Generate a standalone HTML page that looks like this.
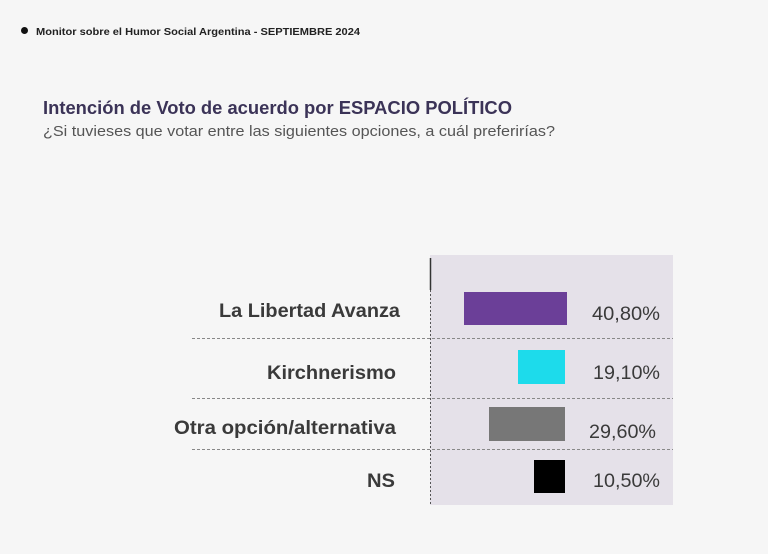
<!DOCTYPE html>
<html><head><meta charset="utf-8"><style>
html,body{margin:0;padding:0;background:#f6f6f6;}
svg{display:block;font-family:"Liberation Sans",sans-serif;}
</style></head><body>
<svg width="768" height="554" viewBox="0 0 768 554">
<rect width="768" height="554" fill="#f6f6f6"/>
<circle cx="24.5" cy="30.5" r="3.5" fill="#111"/>
<text x="36" y="35" font-size="10.5" font-weight="bold" fill="#222" textLength="324" lengthAdjust="spacingAndGlyphs">Monitor sobre el Humor Social Argentina  - SEPTIEMBRE 2024</text>
<text x="43" y="114" font-size="18" font-weight="bold" fill="#3b3357" textLength="469" lengthAdjust="spacingAndGlyphs">Intención de Voto de acuerdo por ESPACIO POLÍTICO</text>
<text x="43" y="136" font-size="15" fill="#555" textLength="512" lengthAdjust="spacingAndGlyphs">¿Si tuvieses que votar entre las siguientes opciones, a cuál preferirías?</text>
<rect x="430" y="255" width="243" height="250" fill="#e5e1e9"/>
<line x1="430.5" y1="258" x2="430.5" y2="290" stroke="#333" stroke-width="1.5"/>
<line x1="430.5" y1="290" x2="430.5" y2="505" stroke="#555" stroke-width="1" stroke-dasharray="2,2"/>
<g stroke="#888" stroke-width="1" stroke-dasharray="3,2">
<line x1="192" y1="338.5" x2="673" y2="338.5"/>
<line x1="192" y1="398.5" x2="673" y2="398.5"/>
<line x1="192" y1="449.5" x2="673" y2="449.5"/>
</g>
<rect x="464" y="292" width="103" height="33" fill="#6b3f98"/>
<rect x="518" y="350" width="47" height="34" fill="#1ddbeb"/>
<rect x="489" y="407" width="76" height="34" fill="#777"/>
<rect x="534" y="460" width="31" height="33" fill="#000"/>
<g font-size="19" font-weight="bold" fill="#3a3a3a" text-anchor="end">
<text x="400" y="317" textLength="181" lengthAdjust="spacingAndGlyphs">La Libertad Avanza</text>
<text x="396" y="379" textLength="129" lengthAdjust="spacingAndGlyphs">Kirchnerismo</text>
<text x="396" y="434" textLength="222" lengthAdjust="spacingAndGlyphs">Otra opción/alternativa</text>
<text x="395" y="487" textLength="28" lengthAdjust="spacingAndGlyphs">NS</text>
</g>
<g font-size="19" fill="#3a3a3a">
<text x="592" y="320" textLength="68" lengthAdjust="spacingAndGlyphs">40,80%</text>
<text x="593" y="379" textLength="67" lengthAdjust="spacingAndGlyphs">19,10%</text>
<text x="589" y="438" textLength="67" lengthAdjust="spacingAndGlyphs">29,60%</text>
<text x="593" y="487" textLength="67" lengthAdjust="spacingAndGlyphs">10,50%</text>
</g>
</svg>
</body></html>
